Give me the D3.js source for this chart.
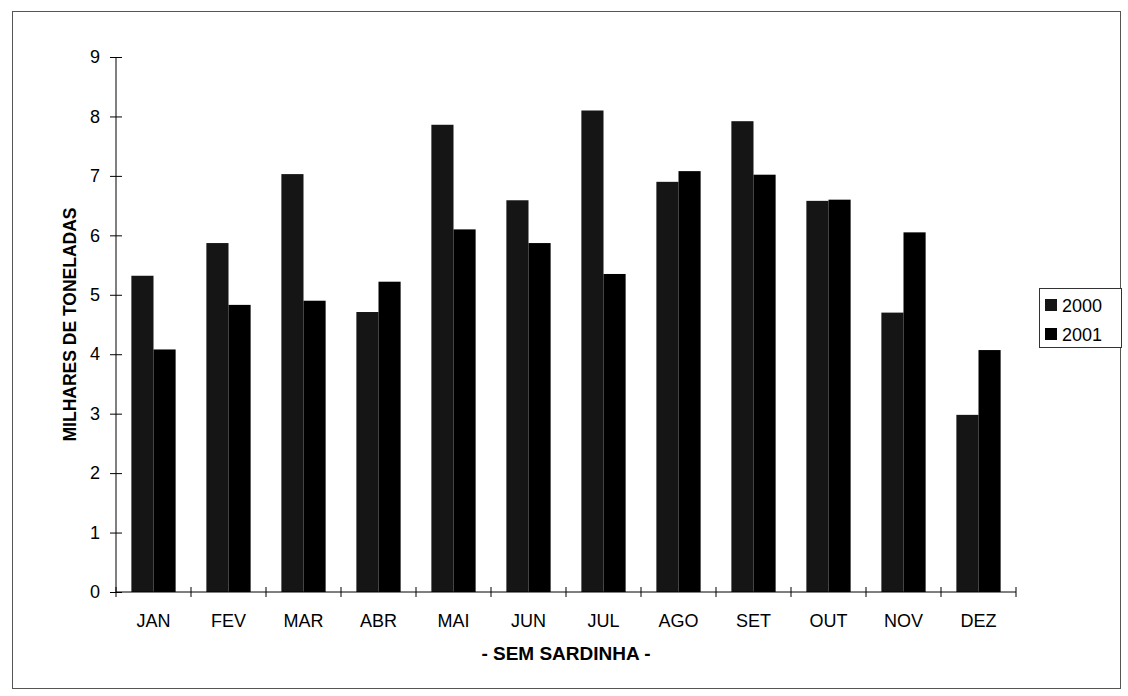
<!DOCTYPE html>
<html><head><meta charset="utf-8">
<script src="https://cdn.jsdelivr.net/npm/d3@7"></script>
<style>body{margin:0;background:#fff}svg{display:block}text{font-family:"Liberation Sans",Arial,sans-serif}</style>
</head><body>
<svg id="c" width="1128" height="696"></svg>
<script>
const months = ["JAN","FEV","MAR","ABR","MAI","JUN","JUL","AGO","SET","OUT","NOV","DEZ"];
const series = ["2000","2001"];
const v2000 = [5.32,5.87,7.03,4.71,7.86,6.59,8.10,6.90,7.92,6.58,4.70,2.98];
const v2001 = [4.08,4.83,4.90,5.22,6.10,5.87,5.35,7.08,7.02,6.60,6.05,4.07];
const yTicks = [0,1,2,3,4,5,6,7,8,9];

const svg = d3.select("#c");
const L = 116, R = 1016, T = 57, B = 592;
const x = d3.scaleBand().domain(months).range([L, R]).paddingInner(0.41).paddingOuter(0.205);
const xs = d3.scaleBand().domain(series).range([0, x.bandwidth()]);
const y = d3.scaleLinear().domain([0, 9]).range([B, T]);
const colors = {"2000":"#151515","2001":"#000"};

// frame
svg.append("rect").attr("x",12.5).attr("y",11.5).attr("width",1108).attr("height",677)
  .attr("fill","none").attr("stroke","#555").attr("stroke-width",1);

const data = months.map((m,i)=>({m, vals:[{s:"2000",v:v2000[i]},{s:"2001",v:v2001[i]}]}));
const g = svg.append("g").selectAll("g").data(data).join("g")
  .attr("transform", d=>`translate(${x(d.m)},0)`);
g.selectAll("rect").data(d=>d.vals).join("rect")
  .attr("x", d=>xs(d.s)).attr("width", xs.bandwidth())
  .attr("y", d=>y(d.v)).attr("height", d=>B - y(d.v))
  .attr("fill", d=>colors[d.s]);

// y axis
const ya = svg.append("g").attr("transform",`translate(${L},0)`)
  .call(d3.axisLeft(y).tickValues(yTicks).tickFormat(d3.format("d")).tickSize(6).tickPadding(10));
ya.selectAll(".tick line").attr("x1",6).attr("x2",-6);
ya.select(".domain").attr("d",`M0,${T}V${B}`);
// x axis
const xTickPos = d3.range(13).map(i=>L + i*(R-L)/12);
const xa = svg.append("g").attr("transform",`translate(0,${B})`)
  .call(d3.axisBottom(x).tickSize(0).tickPadding(22));
xa.select(".domain").attr("d",`M${L},0H${R}`);
svg.append("g").selectAll("line").data(xTickPos).join("line")
  .attr("x1",d=>d).attr("x2",d=>d).attr("y1",B-5).attr("y2",B+5).attr("stroke","#000");
svg.selectAll(".domain, .tick line").attr("stroke","#000");
svg.selectAll(".tick text").attr("font-size",18).attr("fill","#000")
  .style("font-family","'Liberation Sans',Arial,sans-serif");

// titles
svg.append("text").attr("x",(L+R)/2).attr("y",660).attr("text-anchor","middle")
  .attr("font-size",19).attr("font-weight","bold").text("- SEM SARDINHA -");
svg.append("text").attr("transform",`translate(76,${(T+B)/2}) rotate(-90)`)
  .attr("text-anchor","middle").attr("font-size",17.5).attr("font-weight","bold")
  .text("MILHARES DE TONELADAS");

// legend
const lg = svg.append("g");
lg.append("rect").attr("x",1039.5).attr("y",288.5).attr("width",82).attr("height",59)
  .attr("fill","#fff").attr("stroke","#333");
series.forEach((s,i)=>{
  lg.append("rect").attr("x",1045).attr("y",299+i*29).attr("width",12).attr("height",12).attr("fill",colors[s]);
  lg.append("text").attr("x",1062).attr("y",312+i*29).attr("font-size",18).text(s);
});
</script>
</body></html>
